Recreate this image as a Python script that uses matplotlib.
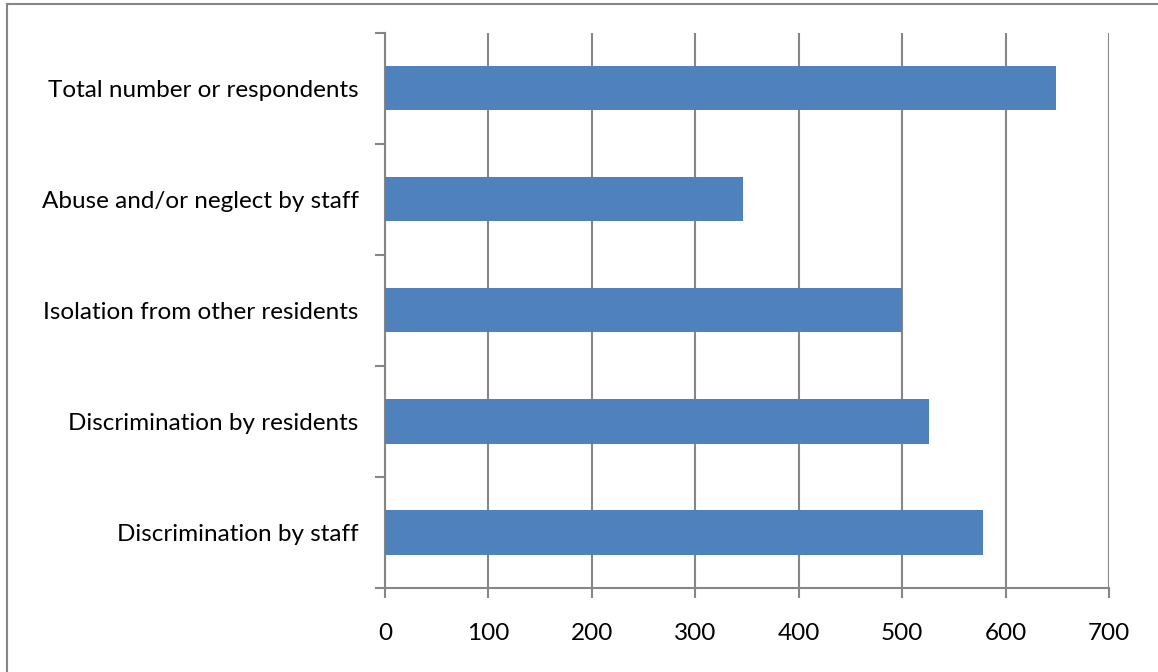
import matplotlib
matplotlib.use("Agg")
import matplotlib.pyplot as plt
from matplotlib.patches import Rectangle
import numpy as np

# data (bottom to top)
categories = [
    "Discrimination by staff",
    "Discrimination by residents",
    "Isolation from other residents",
    "Abuse and/or neglect by staff",
    "Total number or respondents",
]
values = [578, 526, 500, 346, 649]
x_ticks = [0, 100, 200, 300, 400, 500, 600, 700]

BAR_COLOR = "#4F81BD"
GRID_COLOR = "#868686"

plt.rcParams["font.family"] = ["Lato", "DejaVu Sans"]

fig = plt.figure(figsize=(11.58, 6.72), dpi=100)
ax = fig.add_axes([385 / 1158, 84 / 672, 724 / 1158, 555.5 / 672])

y = np.arange(len(categories))
ax.barh(y, values, height=0.4, color=BAR_COLOR, zorder=3)

ax.set_xlim(0, 700)
ax.set_ylim(-0.5, len(categories) - 0.5)
ax.set_xticks(x_ticks)
ax.set_xticklabels([str(v) for v in x_ticks])
ax.set_yticks(y)
ax.set_yticklabels(categories)
ax.set_yticks(np.arange(-0.5, len(categories)), minor=True)

ax.grid(axis="x", color=GRID_COLOR, linewidth=1.5, zorder=0)
ax.tick_params(axis="x", length=7, width=1.5, color=GRID_COLOR, pad=18,
               labelsize=17.5, labelcolor="black")
ax.tick_params(axis="y", which="major", length=0, pad=19, labelsize=17.5)
ax.tick_params(axis="y", which="minor", length=7, width=1.5, color=GRID_COLOR)

for side in ["top", "right"]:
    ax.spines[side].set_visible(False)
for side in ["left", "bottom"]:
    ax.spines[side].set_color(GRID_COLOR)
    ax.spines[side].set_linewidth(1.5)

# outer chart border (cut off at right and bottom)
fig.patches.append(Rectangle((6.5 / 1158, -0.1), 1.2, (668.5 / 672) + 0.1,
                             transform=fig.transFigure, fill=False,
                             edgecolor=GRID_COLOR, linewidth=1.5))

fig.savefig("out.png", dpi=100)
